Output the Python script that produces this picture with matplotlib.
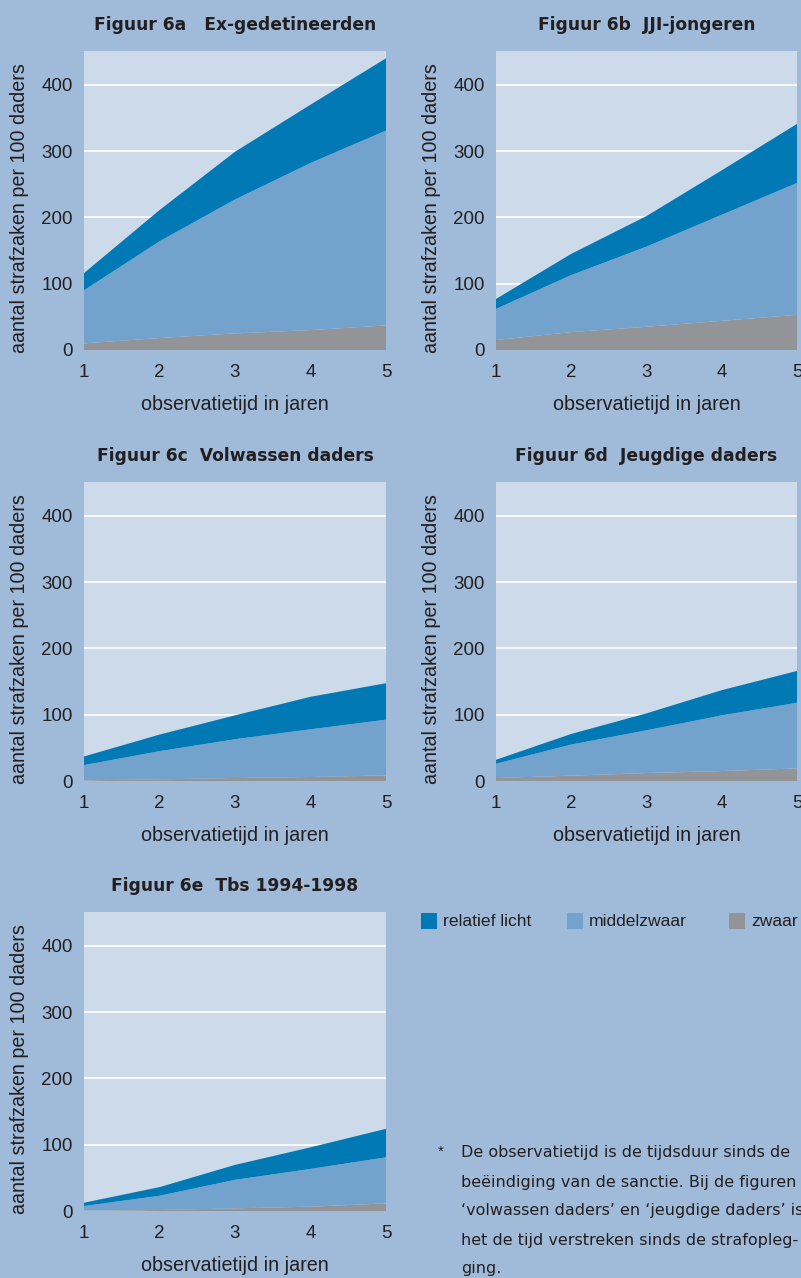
import matplotlib
matplotlib.use("Agg")
import matplotlib.pyplot as plt
from matplotlib.patches import Rectangle

years = [1, 2, 3, 4, 5]

titles = ["Figuur 6a   Ex-gedetineerden", "Figuur 6b  JJI-jongeren",
          "Figuur 6c  Volwassen daders", "Figuur 6d  Jeugdige daders",
          "Figuur 6e  Tbs 1994-1998"]

zwaar_a = [10, 18, 25, 30, 37]
middel_a = [80, 146, 202, 252, 294]
licht_a = [26, 47, 72, 88, 109]

zwaar_b = [15, 27, 35, 44, 53]
middel_b = [47, 86, 121, 160, 199]
licht_b = [15, 32, 46, 67, 89]

zwaar_c = [1, 2.5, 4.5, 6, 8.5]
middel_c = [23, 42.5, 58.5, 72, 84]
licht_c = [13, 25, 36, 49, 55]

zwaar_d = [4.5, 8, 12, 15, 19]
middel_d = [21.5, 47, 64.5, 84, 99]
licht_d = [6, 16, 25.5, 38, 48]

zwaar_e = [0.5, 1.5, 4, 6.5, 11.5]
middel_e = [7, 21.5, 43, 57, 69.5]
licht_e = [5, 13, 22.5, 32.5, 43]

series_names = ["relatief licht", "middelzwaar", "zwaar"]
yticks = [0, 100, 200, 300, 400]

C_BG = "#9fbbd9"
C_AX = "#cddaea"
C_LICHT = "#0079b4"
C_MID = "#73a3cd"
C_ZWAAR = "#939498"
TXT = "#231f20"

plt.rcParams["font.family"] = ["Liberation Sans", "DejaVu Sans"]

W, H = 801, 1278
fig = plt.figure(figsize=(W / 100, H / 100), dpi=100, facecolor=C_BG)

def ax_at(x0, y0, x1, y1):
    return fig.add_axes([x0 / W, 1 - y1 / H, (x1 - x0) / W, (y1 - y0) / H])

boxes = [(84, 51, 386, 350), (496, 51, 797, 350),
         (84, 482, 386, 781), (496, 482, 797, 781),
         (84, 912, 386, 1211)]
data = [(zwaar_a, middel_a, licht_a), (zwaar_b, middel_b, licht_b),
        (zwaar_c, middel_c, licht_c), (zwaar_d, middel_d, licht_d),
        (zwaar_e, middel_e, licht_e)]

for box, title, (z, m, l) in zip(boxes, titles, data):
    ax = ax_at(*box)
    ax.set_facecolor(C_AX)
    for s in ax.spines.values():
        s.set_visible(False)
    ax.set_axisbelow(True)
    ax.grid(axis="y", color="white", linewidth=1.2)
    ax.grid(axis="x", visible=False)
    ax.stackplot(years, z, m, l, colors=[C_ZWAAR, C_MID, C_LICHT], linewidth=0)
    ax.set_xlim(1, 5)
    ax.set_ylim(0, 451)
    ax.set_yticks(yticks)
    ax.set_xticks(years)
    ax.tick_params(length=0, labelsize=13.5, colors=TXT, pad=8)
    ax.tick_params(axis="x", pad=10)
    ax.set_title(title, fontsize=12.3, fontweight="bold", color=TXT, pad=15,
                 family=["DejaVu Sans"])
    ax.set_ylabel("aantal strafzaken per 100 daders", fontsize=14.2, color=TXT)
    ax.yaxis.set_label_coords(-55 / (box[2] - box[0]), 0.475)
    ax.set_xlabel("observatietijd in jaren", fontsize=14.2, color=TXT, labelpad=10)

# legend
leg_x = [421, 567, 729]
cols = [C_LICHT, C_MID, C_ZWAAR]
for x, c, name in zip(leg_x, cols, series_names):
    fig.patches.append(Rectangle((x / W, 1 - 929 / H), 16 / W, 16 / H,
                                 transform=fig.transFigure, facecolor=c, edgecolor="none"))
    fig.text((x + 22) / W, 1 - 921 / H, name, fontsize=12.6, color=TXT, va="center", ha="left")

# footnote
fig.text(441 / W, 1 - 1152 / H, "*", fontsize=11, color=TXT, va="center", ha="center")
lines = ["De observatietijd is de tijdsduur sinds de",
         "beëindiging van de sanctie. Bij de figuren",
         "\u2018volwassen daders\u2019 en \u2018jeugdige daders\u2019 is",
         "het de tijd verstreken sinds de strafopleg-",
         "ging."]
for i, t in enumerate(lines):
    fig.text(461 / W, 1 - (1153 + 29 * i) / H, t, fontsize=11.5, color=TXT,
             va="center", ha="left", family=["DejaVu Sans"])

fig.savefig("out.png", dpi=100, facecolor=C_BG)
